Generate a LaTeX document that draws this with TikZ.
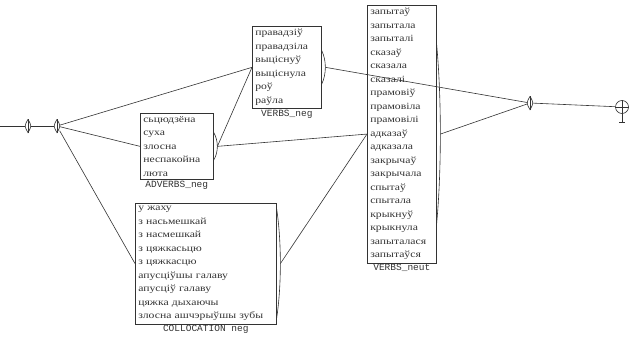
\documentclass[tikz,border=0pt]{standalone}
\usepackage{fontspec}
\newfontfamily\itemfont[FakeStretch=1.23]{Liberation Serif}
\newfontfamily\labelfont{Liberation Mono}
\usetikzlibrary{calc}
\definecolor{ink}{HTML}{333333}
\begin{document}
\begin{tikzpicture}[x=1pt,y=-1pt,
  wordbox/.style={draw=ink, line width=0.6pt, rectangle, anchor=north west, align=left,
    inner xsep=3pt, inner ysep=3pt, font=\itemfont\fontsize{9.5}{13.5}\selectfont, text=ink},
  boxlabel/.style={font=\labelfont\fontsize{9.5}{9.5}\selectfont, text=ink, anchor=north, inner sep=1pt},
  conn/.style={draw=ink, line width=0.6pt},
  lensnode/.style={draw=none, minimum width=5pt, minimum height=13pt, inner sep=0pt},
]
\useasboundingbox[fill=white] (0,0) rectangle (631,342);

% boxes
\node[wordbox, text width=67pt] (adv) at (140,113)
  {сьцюдзёна\\суха\\злосна\\неспакойна\\люта};
\node[boxlabel] (advlab) at (adv.south) {ADVERBS\_neg};

\node[wordbox, text width=63pt] (vneg) at (252,26)
  {правадзіў\\правадзіла\\выціснуў\\выціснула\\роў\\раўла};
\node[boxlabel] (vneglab) at (vneg.south) {VERBS\_neg};

\node[wordbox, text width=135pt] (coll) at (135,203)
  {у жаху\\з насьмешкай\\з насмешкай\\з цяжкасьцю\\з цяжкасцю\\апусціўшы галаву\\апусціў галаву\\цяжка дыхаючы\\злосна ашчэрыўшы зубы};
\node[boxlabel] (colllab) at (coll.south) {COLLOCATION neg};

\node[wordbox, text width=63pt] (vneut) at (367,5)
  {запытаў\\запытала\\запыталі\\сказаў\\сказала\\сказалі\\прамовіў\\прамовіла\\прамовілі\\адказаў\\адказала\\закрычаў\\закрычала\\спытаў\\спытала\\крыкнуў\\крыкнула\\запыталася\\запытаўся};
\node[boxlabel] (vneutlab) at (vneut.south) {VERBS\_neut};

% output ports
\foreach \b/\h in {adv/14, vneg/17, coll/55, vneut/90}{
  \draw[conn] ($(\b.east)+(0,-\h)$) .. controls ($(\b.east)+(5,-0.4*\h)$) and ($(\b.east)+(5,0.4*\h)$) .. ($(\b.east)+(0,\h)$);
  \coordinate (\b out) at ($(\b.east)+(3.8,0)$);
}

% lens nodes
\coordinate (start) at (0,126);
\node[lensnode] (s1) at (28,126) {};
\node[lensnode] (s2) at (57,126) {};
\node[lensnode] (fin) at (530,103) {};
\foreach \n in {s1,s2,fin}{
  \draw[conn] (\n.north) .. controls ($(\n.east)+(1,0)$) .. (\n.south) .. controls ($(\n.west)+(-1,0)$) .. (\n.north);
  \draw[conn] (\n.north) -- (\n.south);
}

% terminal
\node[circle, draw=ink, line width=0.6pt, minimum size=13pt, inner sep=0pt] (term) at (622,107) {};
\draw[conn] (term.north) -- (term.south) (term.west) -- (term.east);
\draw[conn] (term.south) -- ++(0,8) coordinate (foot);
\draw[conn] ($(foot)+(-3,0)$) -- ($(foot)+(3,0)$);

% connectors
\draw[conn] (start) -- (s1);
\draw[conn] (s1) -- (s2);
\draw[conn] (s2) -- (adv.west);
\draw[conn] (s2) -- (vneg.west);
\draw[conn] (s2) -- (coll.west);
\draw[conn] (advout) -- (vneg.west);
\draw[conn] (advout) -- (vneut.west);
\draw[conn] (collout) -- (vneut.west);
\draw[conn] (vnegout) -- (fin);
\draw[conn] (vneutout) -- (fin);
\draw[conn] (fin) -- (term);
\end{tikzpicture}
\end{document}
